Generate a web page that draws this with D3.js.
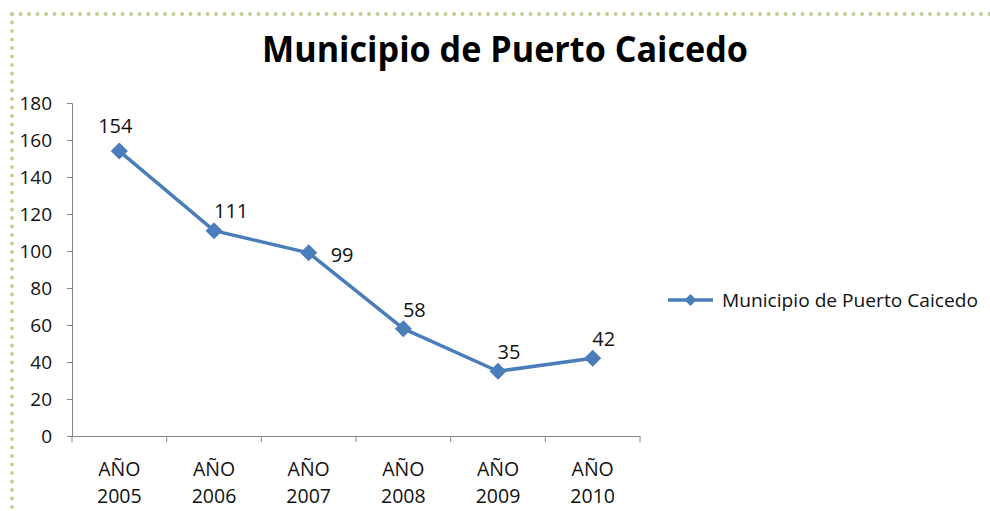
<!DOCTYPE html>
<html>
<head>
<meta charset="utf-8">
<script src="https://cdn.jsdelivr.net/npm/d3@7"></script>
<style>
  body { margin: 0; background: #fff; }
  svg { display: block; font-family: "Open Sans", sans-serif; }
</style>
</head>
<body>
<svg id="chart"></svg>
<script>
const title = "Municipio de Puerto Caicedo";
const years = ["AÑO 2005", "AÑO 2006", "AÑO 2007", "AÑO 2008", "AÑO 2009", "AÑO 2010"];
const values = [154, 111, 99, 58, 35, 42];
const labelSide = ["above", "aboveStart", "right", "aboveRight", "aboveRight", "aboveRight"];
const yTicks = [0, 20, 40, 60, 80, 100, 120, 140, 160, 180];

const width = 990, height = 511;
const plot = { left: 72, right: 640, top: 103, bottom: 436 };
const blue = "#4a7ebb";
const labelOffset = {
    above:      { dx: -4, dy: -18, anchor: "middle" },
    aboveStart: { dx: 0,  dy: -13, anchor: "start" },
    right:      { dx: 22, dy: 9,   anchor: "start" },
    aboveRight: { dx: 11, dy: -12, anchor: "middle" }
};

const svg = d3.select("#chart").attr("width", width).attr("height", height);

// dotted green frame (only top and left edges show)
const frame = svg.append("g").attr("fill", "none").attr("stroke", "#bcd394")
    .attr("stroke-width", 4).attr("stroke-linecap", "round").attr("stroke-dasharray", "0.1 8.4");
frame.append("line").attr("x1", 12).attr("y1", 14).attr("x2", width).attr("y2", 14);
frame.append("line").attr("x1", 12).attr("y1", 14).attr("x2", 12).attr("y2", height);

svg.append("text")
    .attr("x", 505).attr("y", 62)
    .attr("text-anchor", "middle")
    .style("font-size", "35px").style("font-weight", "bold")
    .attr("textLength", 486).attr("lengthAdjust", "spacingAndGlyphs")
    .text(title);

const x = d3.scaleBand().domain(years).range([plot.left, plot.right]);
const y = d3.scaleLinear().domain([0, 180]).range([plot.bottom, plot.top]);

// y axis
const yAxis = svg.append("g")
    .attr("transform", `translate(${plot.left},0)`)
    .call(d3.axisLeft(y).tickValues(yTicks).tickSize(5).tickPadding(15));
yAxis.select(".domain").attr("stroke", "#868686");
yAxis.selectAll(".tick line").attr("stroke", "#868686");
yAxis.selectAll(".tick text").style("font-size", "19px").attr("fill", "#111")
    .style("font-family", "'Open Sans', sans-serif");

// x axis, ticks on the band edges
const xAxis = svg.append("g")
    .attr("transform", `translate(0,${plot.bottom})`)
    .call(d3.axisBottom(x).tickSize(0).tickFormat(""));
xAxis.select(".domain").attr("stroke", "#868686");
const edges = years.map(d => x(d)).concat([plot.right]);
xAxis.selectAll(".edge").data(edges).enter().append("line")
    .attr("x1", d => d).attr("x2", d => d).attr("y1", 0).attr("y2", 6)
    .attr("stroke", "#868686");

const xl = svg.append("g").selectAll("text").data(years).enter().append("text")
    .attr("text-anchor", "middle")
    .style("font-size", "19.5px").attr("fill", "#111");
xl.append("tspan").attr("x", d => x(d) + x.bandwidth() / 2).attr("y", 476).text(d => d.split(" ")[0]);
xl.append("tspan").attr("x", d => x(d) + x.bandwidth() / 2).attr("y", 503).text(d => d.split(" ")[1]);

// line and diamond markers
const pts = values.map((v, i) => [x(years[i]) + x.bandwidth() / 2, y(v)]);
svg.append("path").attr("d", d3.line()(pts))
    .attr("fill", "none").attr("stroke", blue).attr("stroke-width", 3.5)
    .attr("stroke-linejoin", "round");

const marker = d3.symbol().type(d3.symbolSquare).size(145);
svg.append("g").selectAll("path").data(pts).enter().append("path")
    .attr("d", marker)
    .attr("transform", d => `translate(${d[0]},${d[1]}) rotate(45)`)
    .attr("fill", blue);

// data labels
svg.append("g").selectAll("text").data(values).enter().append("text")
    .attr("x", (d, i) => pts[i][0] + labelOffset[labelSide[i]].dx)
    .attr("y", (d, i) => pts[i][1] + labelOffset[labelSide[i]].dy)
    .attr("text-anchor", (d, i) => labelOffset[labelSide[i]].anchor)
    .style("font-size", "20px").attr("fill", "#111")
    .text(d => d);

// legend
const lg = svg.append("g").attr("transform", "translate(668,300)");
lg.append("line").attr("x1", 0).attr("x2", 45).attr("stroke", blue).attr("stroke-width", 3.5);
lg.append("path").attr("d", d3.symbol().type(d3.symbolSquare).size(75))
    .attr("transform", "translate(22.5,0) rotate(45)").attr("fill", blue);
lg.append("text").attr("x", 54).attr("y", 7).style("font-size", "19px").attr("fill", "#111")
    .attr("textLength", 256).attr("lengthAdjust", "spacingAndGlyphs")
    .text(title);
</script>
</body>
</html>
